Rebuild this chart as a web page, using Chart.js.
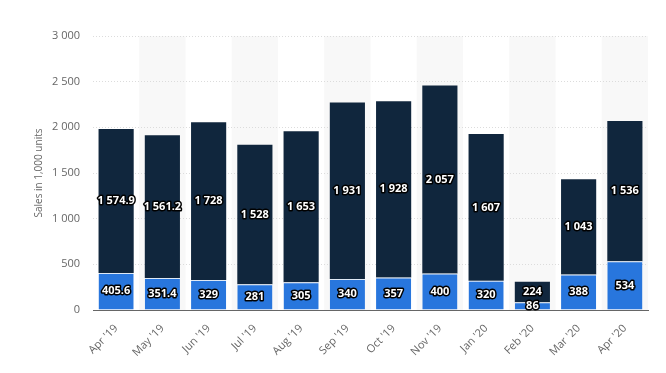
<!DOCTYPE html>
<html>
<head>
<meta charset="utf-8">
<script src="https://cdn.jsdelivr.net/npm/chart.js@4"></script>
<style>
  html, body { margin: 0; padding: 0; background: #fff; }
  #wrap { width: 666px; height: 373px; position: relative; }
</style>
</head>
<body>
<div id="wrap"><canvas id="chartCanvas" width="666" height="373"></canvas></div>
<script>
const months = ["Apr '19", "May '19", "Jun '19", "Jul '19", "Aug '19", "Sep '19", "Oct '19", "Nov '19", "Jan '20", "Feb '20", "Mar '20", "Apr '20"];
const lowerValues = [405.6, 351.4, 329, 281, 305, 340, 357, 400, 320, 86, 388, 534];
const upperValues = [1574.9, 1561.2, 1728, 1528, 1653, 1931, 1928, 2057, 1607, 224, 1043, 1536];
const yTicks = [0, 500, 1000, 1500, 2000, 2500, 3000];

function fmt(v) {
  const parts = String(v).split('.');
  parts[0] = parts[0].replace(/\B(?=(\d{3})+(?!\d))/g, ' ');
  return parts.join('.');
}

// light stripes behind every second category
const bandPlugin = {
  id: 'bands',
  beforeDraw(chart) {
    const {ctx, chartArea, scales} = chart;
    const x = scales.x;
    const step = (chartArea.right - chartArea.left) / months.length;
    ctx.save();
    ctx.fillStyle = '#f8f8f8';
    months.forEach((m, i) => {
      if (i % 2 === 1) {
        const cx = x.getPixelForValue(i);
        ctx.fillRect(cx - step / 2, chartArea.top, step, chartArea.bottom - chartArea.top);
      }
    });
    ctx.restore();
  }
};

// value labels in the middle of each segment
const labelPlugin = {
  id: 'segLabels',
  afterDatasetsDraw(chart) {
    const ctx = chart.ctx;
    ctx.save();
    ctx.font = 'bold 11px "Open Sans", Arial, sans-serif';
    ctx.textAlign = 'center';
    ctx.textBaseline = 'middle';
    ctx.lineJoin = 'round';
    chart.data.datasets.forEach((ds, di) => {
      const meta = chart.getDatasetMeta(di);
      meta.data.forEach((bar, i) => {
        const txt = fmt(ds.data[i]);
        const y = (bar.y + bar.base) / 2;
        ctx.lineWidth = 3;
        ctx.strokeStyle = '#000';
        ctx.strokeText(txt, bar.x, y);
        ctx.fillStyle = '#fff';
        ctx.fillText(txt, bar.x, y);
      });
    });
    ctx.restore();
  }
};

const config = {
  type: 'bar',
  data: {
    labels: months,
    datasets: [
      {
        label: 'lower',
        data: lowerValues,
        backgroundColor: '#2876dd',
        borderColor: '#dfe9f5',
        borderWidth: {top: 1, left: 0, right: 0, bottom: 0},
        borderSkipped: false,
        categoryPercentage: 1,
        barPercentage: 0.76,
      },
      {
        label: 'upper',
        data: upperValues,
        backgroundColor: '#10263d',
        borderWidth: 0,
        categoryPercentage: 1,
        barPercentage: 0.76,
      },
    ],
  },
  options: {
    responsive: false,
    animation: false,
    layout: {padding: {top: 36, right: 18, left: 0, bottom: 0}},
    plugins: {
      legend: {display: false},
      tooltip: {enabled: false},
    },
    scales: {
      x: {
        stacked: true,
        grid: {display: false},
        border: {display: true, color: '#666', width: 1},
        ticks: {
          maxRotation: 45,
          minRotation: 45,
          color: '#666',
          font: {size: 11, family: '"Open Sans", Arial, sans-serif'},
          padding: 4,
        },
        afterFit(scale) { scale.height = 63; },
      },
      y: {
        stacked: true,
        min: 0,
        max: 3000,
        afterBuildTicks(scale) { scale.ticks = yTicks.map(v => ({value: v})); },
        grid: {color: '#dcdcdc', drawTicks: false, lineWidth: 1},
        border: {display: false, dash: [1, 2]},
        ticks: {
          color: '#666',
          padding: 13,
          font: {size: 11, family: '"Open Sans", Arial, sans-serif'},
          callback: v => fmt(v),
        },
        title: {
          display: true,
          text: 'Sales in 1,000 units',
          color: '#666',
          font: {size: 10, family: '"Open Sans", Arial, sans-serif'},
          padding: {top: 33, bottom: 0},
        },
        afterFit(scale) { scale.width = 93; },
      },
    },
  },
  plugins: [bandPlugin, labelPlugin],
};

const chartInstance = new Chart(document.getElementById('chartCanvas').getContext('2d'), config);
</script>
</body>
</html>
